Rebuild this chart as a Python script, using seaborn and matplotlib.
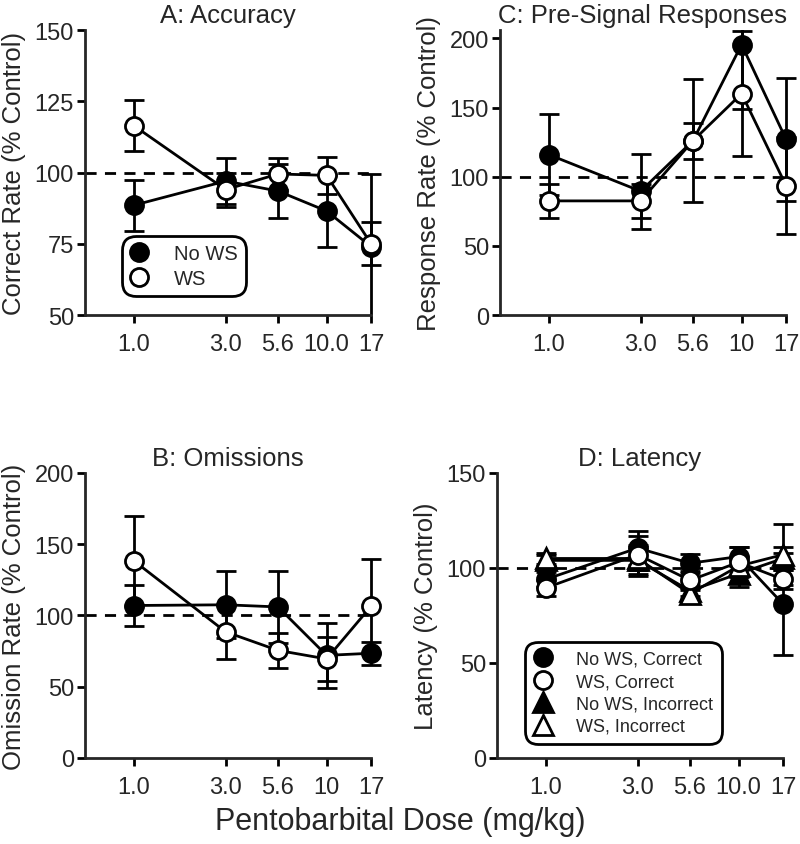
import numpy as np
import pandas as pd
import matplotlib
matplotlib.use("Agg")
import matplotlib.pyplot as plt
from matplotlib.lines import Line2D
from matplotlib.ticker import NullLocator
import seaborn as sns

# ---- data (mean and SEM, % of control) ----
doses = [1.0, 3.0, 5.6, 10.0, 17.0]
labels_dec = ["1.0", "3.0", "5.6", "10.0", "17"]
labels_int = ["1.0", "3.0", "5.6", "10", "17"]

# A: Accuracy
acc_nows = [88.5, 97.0, 93.5, 86.5, 74.0]
acc_nows_err = [9.0, 8.0, 9.5, 12.5, 25.5]
acc_ws = [116.5, 94.0, 99.5, 99.0, 75.0]
acc_ws_err = [9.0, 6.0, 5.5, 6.5, 7.5]

# C: Pre-signal responses
pre_nows = [116.0, 89.5, 126.0, 195.5, 127.0]
pre_nows_err = [29.5, 27.0, 44.5, 46.5, 44.5]
pre_ws = [82.5, 82.5, 126.0, 160.0, 93.5]
pre_ws_err = [12.5, 12.5, 13.0, 45.0, 35.0]

# B: Omissions
om_nows = [107.0, 107.5, 106.0, 72.0, 73.5]
om_nows_err = [14.5, 23.5, 25.5, 23.0, 8.0]
om_ws = [138.5, 88.5, 75.5, 69.5, 106.5]
om_ws_err = [31.5, 19.0, 12.5, 15.5, 33.0]

# D: Latency
lat_nows_c = [94.0, 110.5, 102.5, 106.0, 81.0]
lat_nows_c_err = [4.0, 9.0, 5.0, 5.0, 27.0]
lat_ws_c = [89.5, 107.0, 93.5, 103.0, 94.0]
lat_ws_c_err = [4.0, 10.0, 5.0, 8.0, 5.0]
lat_nows_i = [104.0, 104.0, 88.0, 97.0, 105.0]
lat_nows_i_err = [3.0, 8.0, 3.0, 7.0, 6.0]
lat_ws_i = [105.0, 105.0, 86.5, 101.0, 107.0]
lat_ws_i_err = [3.0, 6.0, 3.0, 5.0, 16.0]

# ---- style ----
sns.set_style("ticks")
plt.rcParams["font.family"] = ["Liberation Sans", "DejaVu Sans"]
plt.rcParams["axes.linewidth"] = 2

XMIN, XMAX = 0.56, 19.6
MS = 13


def setup(ax, title, ylabel, ylim, yticks, xlabels):
    ax.set_xscale("log")
    ax.set_xlim(XMIN, XMAX)
    ax.set_ylim(*ylim)
    ax.set_xticks(doses)
    ax.set_xticklabels(xlabels)
    ax.xaxis.set_minor_locator(NullLocator())
    ax.set_yticks(yticks)
    sns.despine(ax=ax)
    ax.spines["bottom"].set_bounds(XMIN, doses[-1])
    ax.tick_params(axis="both", width=2, length=6, labelsize=17, color="black")
    ax.tick_params(axis="x", pad=7)
    ax.tick_params(axis="y", pad=2)
    ax.set_title(title, fontsize=18.5, x=0.478, pad=6)
    ax.set_ylabel(ylabel, fontsize=18.5, labelpad=6)
    # dashed control line
    ax.plot([XMIN, doses[-1]], [100, 100], ls="--", color="black", lw=2,
            dashes=(4, 3), zorder=1)


def draw_series(ax, y, err, marker="o", face="black", size=MS):
    df = pd.DataFrame({"dose": doses, "val": y})
    ax.errorbar(doses, y, yerr=err, fmt="none", ecolor="black",
                elinewidth=2, capsize=7, capthick=2, zorder=2)
    sns.lineplot(data=df, x="dose", y="val", ax=ax, color="black", lw=2,
                 marker=marker, markersize=size, markerfacecolor=face,
                 markeredgecolor="black", markeredgewidth=2, zorder=3)
    ax.set_xlabel("")


def handle(marker, face, size=MS):
    return Line2D([], [], ls="none", marker=marker, markersize=size,
                  markerfacecolor=face, markeredgecolor="black",
                  markeredgewidth=2)


def style_legend(leg):
    frame = leg.get_frame()
    frame.set_linewidth(2)
    frame.set_edgecolor("black")
    frame.set_boxstyle("round", pad=0.25, rounding_size=0.7)


fig = plt.figure(figsize=(8, 8.45), dpi=100)
W = 298 / 800
H = 285 / 845
axA = fig.add_axes([85 / 800, 0.626, W, H])
axC = fig.add_axes([500 / 800, 0.626, W, H])
axB = fig.add_axes([85 / 800, 0.1018, W, H])
axD = fig.add_axes([497 / 800, 0.1018, W, H])

# A: Accuracy
setup(axA, "A: Accuracy", "Correct Rate (% Control)", (50, 150),
      [50, 75, 100, 125, 150], labels_dec)
draw_series(axA, acc_nows, acc_nows_err, face="black")
draw_series(axA, acc_ws, acc_ws_err, face="white")
legA = axA.legend(handles=[handle("o", "black"), handle("o", "white")],
                  labels=["No WS", "WS"], loc="lower left",
                  bbox_to_anchor=(0.14, 0.085), borderaxespad=0, fontsize=14.5,
                  frameon=True, fancybox=True, framealpha=1, handlelength=0.9,
                  handletextpad=1.3, borderpad=0.15, labelspacing=0.3)
style_legend(legA)

# C: Pre-signal responses
setup(axC, "C: Pre-Signal Responses", "Response Rate (% Control)", (0, 206),
      [0, 50, 100, 150, 200], labels_int)
draw_series(axC, pre_nows, pre_nows_err, face="black")
draw_series(axC, pre_ws, pre_ws_err, face="white")

# B: Omissions
setup(axB, "B: Omissions", "Omission Rate (% Control)", (0, 200),
      [0, 50, 100, 150, 200], labels_int)
draw_series(axB, om_nows, om_nows_err, face="black")
draw_series(axB, om_ws, om_ws_err, face="white")

# D: Latency
setup(axD, "D: Latency", "Latency (% Control)", (0, 150),
      [0, 50, 100, 150], labels_dec)
draw_series(axD, lat_nows_i, lat_nows_i_err, marker="^", face="black", size=MS + 1)
draw_series(axD, lat_ws_i, lat_ws_i_err, marker="^", face="white", size=MS + 1)
draw_series(axD, lat_nows_c, lat_nows_c_err, face="black")
draw_series(axD, lat_ws_c, lat_ws_c_err, face="white")
legD = axD.legend(handles=[handle("o", "black"), handle("o", "white"),
                           handle("^", "black", MS + 1), handle("^", "white", MS + 1)],
                  labels=["No WS, Correct", "WS, Correct",
                          "No WS, Incorrect", "WS, Incorrect"],
                  loc="lower left", bbox_to_anchor=(0.11, 0.065),
                  borderaxespad=0, fontsize=13, frameon=True, fancybox=True,
                  framealpha=1, handlelength=1.0, handletextpad=1.3,
                  borderpad=0.25, labelspacing=0.3)
style_legend(legD)

fig.text(0.5, 0.027, "Pentobarbital Dose (mg/kg)", ha="center", va="center",
         fontsize=22)

fig.savefig("out.png", dpi=100)
